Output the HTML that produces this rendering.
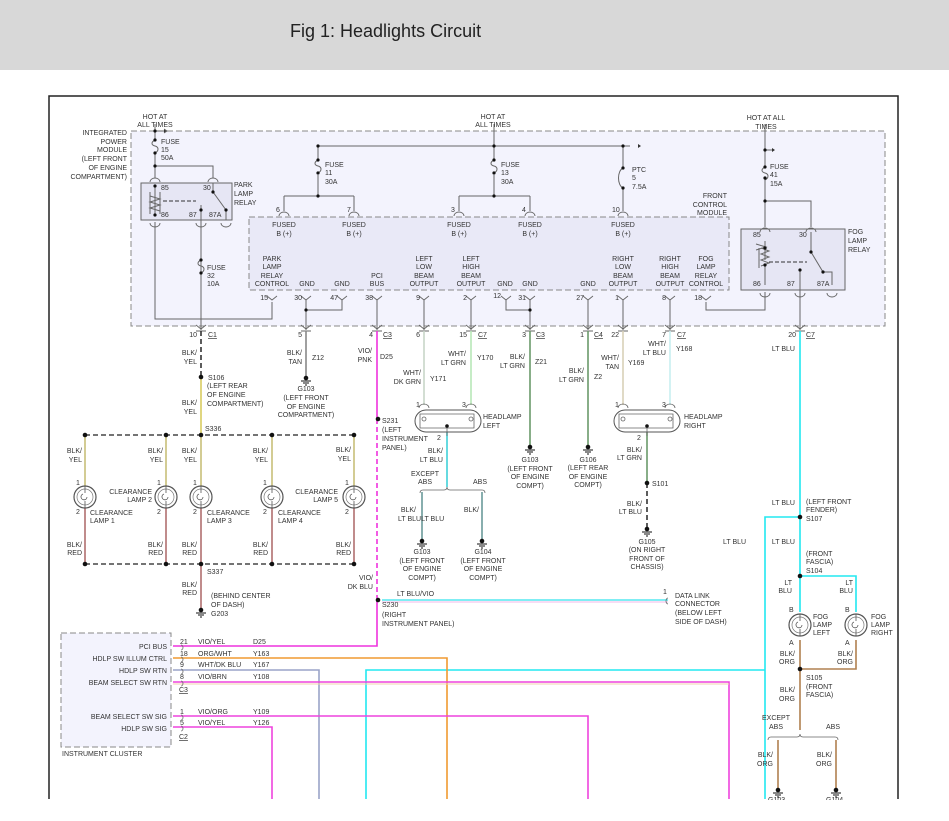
<!DOCTYPE html>
<html><head><meta charset="utf-8"><style>
body{margin:0;width:949px;height:821px;overflow:hidden;background:#fff}
svg{display:block}
text{font-family:"Liberation Sans",sans-serif;font-size:7px;fill:#333}
.r{text-anchor:end}.m{text-anchor:middle}
</style></head><body>
<svg width="949" height="821" viewBox="0 0 949 821" xmlns="http://www.w3.org/2000/svg">
<defs>
<g id="gnd"><circle cx="0" cy="0" r="2.3" fill="#111"/><path d="M-5 3H5M-3 5H3M-1 7H1" stroke="#111" stroke-width="1"/></g>
<g id="lamp"><circle cx="0" cy="0" r="11" fill="#fff" stroke="#555" stroke-width="1.2"/><circle cx="0" cy="0" r="8" fill="none" stroke="#777" stroke-width=".7"/><path d="M0 -11V-4M0 11V4M-2 -3a3 3 0 1 0 4 3" fill="none" stroke="#555" stroke-width=".8"/></g>
</defs>
<rect x="0" y="0" width="949" height="70" fill="#d8d8d8"/>
<text x="290" y="37" style="font-size:18px;fill:#222">Fig 1: Headlights Circuit</text>
<path d="M49 799V96H898V799" fill="none" stroke="#222" stroke-width="1.5"/>
<!-- IPM box -->
<rect x="131" y="131" width="754" height="195" fill="#f3f3fd" stroke="#888" stroke-dasharray="6,3"/>
<rect x="249" y="217" width="480" height="73" fill="#e9e9f7" stroke="#888" stroke-dasharray="6,3"/>
<rect x="141" y="183" width="91" height="37" fill="#e6e6f4" stroke="#666"/>
<rect x="741" y="229" width="104" height="61" fill="#e6e6f4" stroke="#666"/>
<g stroke="#666" stroke-width="1" fill="none">
<!-- left fuse / relay -->
<path d="M155 124V140M155 153V178M155 166H213V178"/>
<path d="M155 140c-4 2-4 5 0 6s4 5 0 7"/>
<path d="M155 131H166"/><path d="M164 129l3 2-3 2" fill="#333"/>
<path d="M155 186V215M155 222V319H272V302"/>
<path d="M150 196l10 3-10 3 10 3-10 3 10 3" /><path d="M150 192V214M160 192V214"/>
<path d="M163 201H196" stroke-dasharray="4,2" stroke="#333"/>
<path d="M213 183V192L226 210M226 210V220"/>
<path d="M201 205V330"/>
<path d="M201 260c-4 2-4 5 0 6s4 5 0 7"/>
<!-- top bus -->
<path d="M494 124V146M318 146H630M318 146V160M318 175V196M284 196H354M284 196V211M354 196V211"/>
<path d="M318 160c-4 2-4 5 0 6s4 5 0 7" />
<path d="M494 146V160M494 175V196M459 196H530M459 196V211M530 196V211"/>
<path d="M494 160c-4 2-4 5 0 6s4 5 0 7"/>
<path d="M623 146V168M623 188V211M623 168c-6 3-6 17 0 20"/>
<!-- fog relay -->
<path d="M765 124V167M765 178V201H811V227M765 201V227M765 292V310H706V302"/>
<path d="M765 167c-4 2-4 5 0 6s4 5 0 7"/>
<path d="M765 150H774"/>
<path d="M765 241V260M756 250l10-3-10-3M761 248l8 3-8 3 8 3-8 3 8 3-8 3M759 248V268M765 265V285"/>
<path d="M769 262H807" stroke-dasharray="4,2" stroke="#333"/>
<path d="M811 232V252L823 272H832V285M800 270V330"/>
<!-- fcm bottom pins -->
<path d="M306 300V330M342 300V310H306M377 300V330M424 300V330M471 300V330M506 300V310H530M530 300V330M588 300V330M623 300V330M670 300V330"/>
</g>
<path d="M772 148l3 2-3 2z" fill="#333"/><path d="M638 144l3 2-3 2z" fill="#333"/>
<g fill="#111">
<circle cx="155" cy="131" r="1.6"/><circle cx="155" cy="140" r="1.6"/><circle cx="155" cy="153" r="1.6"/><circle cx="155" cy="166" r="1.6"/>
<circle cx="155" cy="186" r="1.6"/><circle cx="155" cy="215" r="1.6"/><circle cx="213" cy="192" r="1.6"/><circle cx="226" cy="210" r="1.6"/><circle cx="201" cy="210" r="1.6"/>
<circle cx="201" cy="260" r="1.6"/><circle cx="201" cy="273" r="1.6"/>
<circle cx="318" cy="146" r="1.6"/><circle cx="318" cy="160" r="1.6"/><circle cx="318" cy="173" r="1.6"/><circle cx="318" cy="196" r="1.6"/>
<circle cx="494" cy="146" r="1.6"/><circle cx="494" cy="160" r="1.6"/><circle cx="494" cy="173" r="1.6"/><circle cx="494" cy="196" r="1.6"/>
<circle cx="623" cy="146" r="1.6"/><circle cx="623" cy="168" r="1.6"/><circle cx="623" cy="188" r="1.6"/>
<circle cx="765" cy="150" r="1.6"/><circle cx="765" cy="167" r="1.6"/><circle cx="765" cy="178" r="1.6"/><circle cx="765" cy="201" r="1.6"/>
<circle cx="765" cy="248" r="1.6"/><circle cx="765" cy="265" r="1.6"/><circle cx="823" cy="272" r="1.6"/><circle cx="800" cy="270" r="1.6"/><circle cx="811" cy="252" r="1.6"/>
<circle cx="306" cy="310" r="1.6"/><circle cx="530" cy="310" r="1.6"/>
</g>
<!-- connector arcs -->
<g fill="none" stroke="#666" stroke-width=".9">
<path d="M150 182a5 4 0 0 1 10 0M208 182a5 4 0 0 1 10 0M150 223a5 4 0 0 0 10 0M196 223a5 4 0 0 0 10 0M221 223a5 4 0 0 0 10 0"/>
<path d="M279 216a5 4 0 0 1 10 0M349 216a5 4 0 0 1 10 0M454 216a5 4 0 0 1 10 0M525 216a5 4 0 0 1 10 0M618 216a5 4 0 0 1 10 0"/>
<path d="M760 232a5 4 0 0 1 10 0M806 232a5 4 0 0 1 10 0M760 293a5 4 0 0 0 10 0M795 293a5 4 0 0 0 10 0M827 293a5 4 0 0 0 10 0"/>
<path d="M267 296l5 4 5-4M301 296l5 4 5-4M337 296l5 4 5-4M372 296l5 4 5-4M419 296l5 4 5-4M466 296l5 4 5-4M501 296l5 4 5-4M525 296l5 4 5-4M583 296l5 4 5-4M618 296l5 4 5-4M665 296l5 4 5-4M701 296l5 4 5-4"/>
<path d="M196 325l5 4 5-4M301 325l5 4 5-4M372 325l5 4 5-4M419 325l5 4 5-4M466 325l5 4 5-4M525 325l5 4 5-4M583 325l5 4 5-4M618 325l5 4 5-4M665 325l5 4 5-4M795 325l5 4 5-4"/>
<path d="M196 331H206M301 331H311M372 331H382M419 331H429M466 331H476M525 331H535M583 331H593M618 331H628M665 331H675M795 331H805"/>
</g>
<!-- wires below -->
<g fill="none" stroke-width="1.6">
<path d="M201 331V377" stroke="#333" stroke-dasharray="5,3"/>
<path d="M201 377V435" stroke="#d8cc60"/>
<path d="M306 331V378" stroke="#888"/>
<path d="M377 331V419M377 600V646H173" stroke="#ee33dd"/>
<path d="M377 419V600" stroke="#ee33dd" stroke-dasharray="5,3"/>
<path d="M382 600H668" stroke="#55e8f0"/><path d="M382 602H668" stroke="#f0b8e8" stroke-width="1"/>
<path d="M424 331V405" stroke="#c8d6c8"/>
<path d="M471 331V405" stroke="#b8e8b8"/>
<path d="M447 432V487" stroke="#40d0d8"/>
<path d="M422 492V540M482 492V540" stroke="#6a9a9a"/>
<path d="M530 331V445M588 331V445" stroke="#6a9a6a"/>
<path d="M623 331V405" stroke="#d8d0b8"/>
<path d="M670 331V405" stroke="#c8eef0"/>
<path d="M647 432V483" stroke="#6a9a6a"/>
<path d="M647 483V527" stroke="#333" stroke-dasharray="5,3"/>
<path d="M800 331V612M800 517H765V799M800 576H856V612M765 670H366V799" stroke="#22e8f0"/>
<path d="M800 640V730M856 640V669H800M778 740V790M836 740V790" stroke="#b08050"/>
<path d="M173 658H447V799" stroke="#f09a30"/>
<path d="M173 670H319V799" stroke="#9aa4c8"/>
<path d="M173 682H729V799" stroke="#ee44dd"/><path d="M173 684H729" stroke="#f0d0b0" stroke-width="1"/>
<path d="M173 716H588V799" stroke="#ee44dd"/>
<path d="M173 727H272V799" stroke="#ee44dd"/>
<!-- clearance -->
<path d="M85 435H354M85 564H354" stroke="#222" stroke-width="1.2" stroke-dasharray="5,3"/>
<path d="M85 435V486M166 435V486M201 435V486M272 435V486M354 435V486" stroke="#c8c07a"/>
<path d="M85 508V564M166 508V564M201 508V564M272 508V564M354 508V564M201 564V610" stroke="#b07070"/>
</g>
<g fill="#111">
<circle cx="201" cy="377" r="2.3"/><circle cx="378" cy="419" r="2.3"/><circle cx="378" cy="600" r="2.3"/>
<circle cx="85" cy="435" r="2.3"/><circle cx="166" cy="435" r="2.3"/><circle cx="201" cy="435" r="2.3"/><circle cx="272" cy="435" r="2.3"/><circle cx="354" cy="435" r="2.3"/>
<circle cx="85" cy="564" r="2.3"/><circle cx="166" cy="564" r="2.3"/><circle cx="201" cy="564" r="2.3"/><circle cx="272" cy="564" r="2.3"/><circle cx="354" cy="564" r="2.3"/>
<circle cx="647" cy="483" r="2.3"/><circle cx="800" cy="517" r="2.3"/><circle cx="800" cy="576" r="2.3"/><circle cx="800" cy="669" r="2.3"/>
</g>
<use href="#gnd" x="306" y="378"/><use href="#gnd" x="201" y="610"/><use href="#gnd" x="422" y="541"/><use href="#gnd" x="482" y="541"/>
<use href="#gnd" x="530" y="447"/><use href="#gnd" x="588" y="447"/><use href="#gnd" x="647" y="529"/><use href="#gnd" x="778" y="790"/><use href="#gnd" x="836" y="790"/>
<use href="#lamp" x="85" y="497"/><use href="#lamp" x="166" y="497"/><use href="#lamp" x="201" y="497"/><use href="#lamp" x="272" y="497"/><use href="#lamp" x="354" y="497"/>
<use href="#lamp" x="800" y="625"/><use href="#lamp" x="856" y="625"/>
<!-- headlamps -->
<g fill="#fff" stroke="#555" stroke-width="1">
<rect x="415" y="410" width="66" height="22" rx="11"/><rect x="614" y="410" width="66" height="22" rx="11"/>
</g>
<g fill="none" stroke="#666" stroke-width=".8">
<path d="M420 414h54v14h-54zM619 414h54v14h-54z"/>
<circle cx="424" cy="419" r="2"/><circle cx="471" cy="419" r="2"/><circle cx="623" cy="419" r="2"/><circle cx="670" cy="419" r="2"/>
<path d="M419 408a5 4 0 0 1 10 0M466 408a5 4 0 0 1 10 0M618 408a5 4 0 0 1 10 0M665 408a5 4 0 0 1 10 0"/>
<path d="M447 426V436M647 426V436"/>
<path d="M420 493q0-3 3-3h21q3 0 3-3q0 3 3 3h32q3 0 3 3"/>
<path d="M768 740q0-3 3-3h26q3 0 3-3q0 3 3 3h32q3 0 3 3"/>
<path d="M181 645a2 2.5 0 0 1 0 5M181 657a2 2.5 0 0 1 0 5M181 669a2 2.5 0 0 1 0 5M181 681a2 2.5 0 0 1 0 5M181 715a2 2.5 0 0 1 0 5M181 726a2 2.5 0 0 1 0 5M668 598a2 3 0 0 0 0 6"/>
</g>
<circle cx="447" cy="426" r="1.8" fill="#111"/><circle cx="647" cy="426" r="1.8" fill="#111"/>
<rect x="61" y="633" width="110" height="114" fill="#f3f3fd" stroke="#888" stroke-dasharray="6,3"/>
<!-- TEXT -->
<g>
<text class="r" x="127" y="135">INTEGRATED</text><text class="r" x="127" y="144">POWER</text><text class="r" x="127" y="152">MODULE</text><text class="r" x="127" y="161">(LEFT FRONT</text><text class="r" x="127" y="170">OF ENGINE</text><text class="r" x="127" y="179">COMPARTMENT)</text>
<text class="m" x="155" y="119">HOT AT</text><text class="m" x="155" y="127">ALL TIMES</text>
<text x="161" y="144">FUSE</text><text x="161" y="152">15</text><text x="161" y="160">50A</text>
<text x="161" y="190">85</text><text x="203" y="190">30</text><text x="161" y="217">86</text><text x="189" y="217">87</text><text x="209" y="217">87A</text>
<text x="234" y="187">PARK</text><text x="234" y="196">LAMP</text><text x="234" y="205">RELAY</text>
<text x="207" y="270">FUSE</text><text x="207" y="278">32</text><text x="207" y="286">10A</text>
<text class="m" x="493" y="119">HOT AT</text><text class="m" x="493" y="127">ALL TIMES</text>
<text x="325" y="167">FUSE</text><text x="325" y="175">11</text><text x="325" y="184">30A</text>
<text x="501" y="167">FUSE</text><text x="501" y="175">13</text><text x="501" y="184">30A</text>
<text x="632" y="172">PTC</text><text x="632" y="180">5</text><text x="632" y="189">7.5A</text>
<text x="276" y="212">6</text><text x="347" y="212">7</text><text x="451" y="212">3</text><text x="522" y="212">4</text><text x="612" y="212">10</text>
<text class="m" x="284" y="227">FUSED</text><text class="m" x="284" y="236">B (+)</text>
<text class="m" x="354" y="227">FUSED</text><text class="m" x="354" y="236">B (+)</text>
<text class="m" x="459" y="227">FUSED</text><text class="m" x="459" y="236">B (+)</text>
<text class="m" x="530" y="227">FUSED</text><text class="m" x="530" y="236">B (+)</text>
<text class="m" x="623" y="227">FUSED</text><text class="m" x="623" y="236">B (+)</text>
<text class="r" x="727" y="198">FRONT</text><text class="r" x="727" y="207">CONTROL</text><text class="r" x="727" y="215">MODULE</text>
<text class="m" x="272" y="261">PARK</text><text class="m" x="272" y="269">LAMP</text><text class="m" x="272" y="278">RELAY</text><text class="m" x="272" y="286">CONTROL</text>
<text class="m" x="307" y="286">GND</text><text class="m" x="342" y="286">GND</text>
<text class="m" x="377" y="278">PCI</text><text class="m" x="377" y="286">BUS</text>
<text class="m" x="424" y="261">LEFT</text><text class="m" x="424" y="269">LOW</text><text class="m" x="424" y="278">BEAM</text><text class="m" x="424" y="286">OUTPUT</text>
<text class="m" x="471" y="261">LEFT</text><text class="m" x="471" y="269">HIGH</text><text class="m" x="471" y="278">BEAM</text><text class="m" x="471" y="286">OUTPUT</text>
<text class="m" x="505" y="286">GND</text><text class="m" x="530" y="286">GND</text><text class="m" x="588" y="286">GND</text>
<text class="m" x="623" y="261">RIGHT</text><text class="m" x="623" y="269">LOW</text><text class="m" x="623" y="278">BEAM</text><text class="m" x="623" y="286">OUTPUT</text>
<text class="m" x="670" y="261">RIGHT</text><text class="m" x="670" y="269">HIGH</text><text class="m" x="670" y="278">BEAM</text><text class="m" x="670" y="286">OUTPUT</text>
<text class="m" x="706" y="261">FOG</text><text class="m" x="706" y="269">LAMP</text><text class="m" x="706" y="278">RELAY</text><text class="m" x="706" y="286">CONTROL</text>
<text class="r" x="268" y="300">15</text><text class="r" x="302" y="300">30</text><text class="r" x="338" y="300">47</text><text class="r" x="373" y="300">38</text><text class="r" x="420" y="300">9</text><text class="r" x="467" y="300">2</text><text class="r" x="501" y="298">12</text><text class="r" x="526" y="300">31</text><text class="r" x="584" y="300">27</text><text class="r" x="619" y="300">1</text><text class="r" x="666" y="300">8</text><text class="r" x="702" y="300">18</text>
<text class="m" x="766" y="120">HOT AT ALL</text><text class="m" x="766" y="129">TIMES</text>
<text x="770" y="169">FUSE</text><text x="770" y="177">41</text><text x="770" y="186">15A</text>
<text x="753" y="237">85</text><text x="799" y="237">30</text><text x="753" y="286">86</text><text x="787" y="286">87</text><text x="817" y="286">87A</text>
<text x="848" y="234">FOG</text><text x="848" y="243">LAMP</text><text x="848" y="252">RELAY</text>
<!-- connector row -->
<text class="r" x="197" y="337">10</text><text x="208" y="337" text-decoration="underline">C1</text>
<text class="r" x="302" y="337">5</text>
<text class="r" x="373" y="337">4</text><text x="383" y="337" text-decoration="underline">C3</text>
<text class="r" x="420" y="337">6</text>
<text class="r" x="467" y="337">15</text><text x="478" y="337" text-decoration="underline">C7</text>
<text class="r" x="526" y="337">3</text><text x="536" y="337" text-decoration="underline">C3</text>
<text class="r" x="584" y="337">1</text><text x="594" y="337" text-decoration="underline">C4</text>
<text class="r" x="619" y="337">22</text>
<text class="r" x="666" y="337">7</text><text x="677" y="337" text-decoration="underline">C7</text>
<text class="r" x="796" y="337">20</text><text x="806" y="337" text-decoration="underline">C7</text>
<!-- wire labels -->
<text class="r" x="197" y="355">BLK/</text><text class="r" x="197" y="364">YEL</text>
<text x="208" y="380">S106</text><text x="207" y="388">(LEFT REAR</text><text x="207" y="397">OF ENGINE</text><text x="207" y="406">COMPARTMENT)</text>
<text class="r" x="197" y="405">BLK/</text><text class="r" x="197" y="414">YEL</text><text x="205" y="431">S336</text>
<text class="r" x="302" y="355">BLK/</text><text class="r" x="302" y="364">TAN</text><text x="312" y="360">Z12</text>
<text class="m" x="306" y="391">G103</text><text class="m" x="306" y="400">(LEFT FRONT</text><text class="m" x="306" y="409">OF ENGINE</text><text class="m" x="306" y="417">COMPARTMENT)</text>
<text class="r" x="372" y="353">VIO/</text><text class="r" x="372" y="362">PNK</text><text x="380" y="359">D25</text>
<text x="382" y="423">S231</text><text x="382" y="432">(LEFT</text><text x="382" y="441">INSTRUMENT</text><text x="382" y="450">PANEL)</text>
<text class="r" x="421" y="375">WHT/</text><text class="r" x="421" y="384">DK GRN</text><text x="430" y="381">Y171</text>
<text class="r" x="466" y="356">WHT/</text><text class="r" x="466" y="365">LT GRN</text><text x="477" y="360">Y170</text>
<text x="416" y="407">1</text><text x="462" y="407">3</text><text x="437" y="440">2</text>
<text x="483" y="419">HEADLAMP</text><text x="483" y="428">LEFT</text>
<text class="r" x="443" y="453">BLK/</text><text class="r" x="443" y="462">LT BLU</text>
<text class="m" x="425" y="476">EXCEPT</text><text class="m" x="425" y="484">ABS</text><text class="m" x="480" y="484">ABS</text>
<text class="r" x="416" y="512">BLK/</text><text x="398" y="521">LT BLULT BLU</text><text class="r" x="479" y="512">BLK/</text>
<text class="m" x="422" y="554">G103</text><text class="m" x="422" y="563">(LEFT FRONT</text><text class="m" x="422" y="571">OF ENGINE</text><text class="m" x="422" y="580">COMPT)</text>
<text class="m" x="483" y="554">G104</text><text class="m" x="483" y="563">(LEFT FRONT</text><text class="m" x="483" y="571">OF ENGINE</text><text class="m" x="483" y="580">COMPT)</text>
<text class="r" x="525" y="359">BLK/</text><text class="r" x="525" y="368">LT GRN</text><text x="535" y="364">Z21</text>
<text class="m" x="530" y="462">G103</text><text class="m" x="530" y="471">(LEFT FRONT</text><text class="m" x="530" y="479">OF ENGINE</text><text class="m" x="530" y="488">COMPT)</text>
<text class="r" x="584" y="373">BLK/</text><text class="r" x="584" y="382">LT GRN</text><text x="594" y="379">Z2</text>
<text class="m" x="588" y="462">G106</text><text class="m" x="588" y="470">(LEFT REAR</text><text class="m" x="588" y="479">OF ENGINE</text><text class="m" x="588" y="487">COMPT)</text>
<text class="r" x="619" y="360">WHT/</text><text class="r" x="619" y="369">TAN</text><text x="628" y="365">Y169</text>
<text class="r" x="666" y="346">WHT/</text><text class="r" x="666" y="355">LT BLU</text><text x="676" y="351">Y168</text>
<text x="615" y="407">1</text><text x="662" y="407">3</text><text x="637" y="440">2</text>
<text x="684" y="419">HEADLAMP</text><text x="684" y="428">RIGHT</text>
<text class="r" x="642" y="452">BLK/</text><text class="r" x="642" y="460">LT GRN</text><text x="652" y="486">S101</text>
<text class="r" x="642" y="506">BLK/</text><text class="r" x="642" y="514">LT BLU</text>
<text class="m" x="647" y="544">G105</text><text class="m" x="647" y="552">(ON RIGHT</text><text class="m" x="647" y="561">FRONT OF</text><text class="m" x="647" y="569">CHASSIS)</text>
<text class="r" x="795" y="351">LT BLU</text>
<text class="r" x="795" y="505">LT BLU</text><text x="806" y="504">(LEFT FRONT</text><text x="806" y="512">FENDER)</text><text x="806" y="521">S107</text>
<text x="723" y="544">LT BLU</text><text class="r" x="795" y="544">LT BLU</text>
<text x="806" y="556">(FRONT</text><text x="806" y="564">FASCIA)</text><text x="806" y="573">S104</text>
<text class="r" x="792" y="585">LT</text><text class="r" x="792" y="593">BLU</text><text class="r" x="853" y="585">LT</text><text class="r" x="853" y="593">BLU</text>
<text x="789" y="612">B</text><text x="845" y="612">B</text>
<text x="813" y="619">FOG</text><text x="813" y="627">LAMP</text><text x="813" y="635">LEFT</text>
<text x="871" y="619">FOG</text><text x="871" y="627">LAMP</text><text x="871" y="635">RIGHT</text>
<text x="789" y="645">A</text><text x="845" y="645">A</text>
<text class="r" x="795" y="656">BLK/</text><text class="r" x="795" y="664">ORG</text><text class="r" x="853" y="656">BLK/</text><text class="r" x="853" y="664">ORG</text>
<text x="806" y="680">S105</text><text x="806" y="689">(FRONT</text><text x="806" y="697">FASCIA)</text>
<text class="r" x="795" y="692">BLK/</text><text class="r" x="795" y="701">ORG</text>
<text class="m" x="776" y="720">EXCEPT</text><text class="m" x="776" y="729">ABS</text><text class="m" x="833" y="729">ABS</text>
<text class="r" x="773" y="757">BLK/</text><text class="r" x="773" y="766">ORG</text><text class="r" x="832" y="757">BLK/</text><text class="r" x="832" y="766">ORG</text>
<!-- clearance labels -->
<text class="r" x="82" y="453">BLK/</text><text class="r" x="82" y="462">YEL</text>
<text class="r" x="163" y="453">BLK/</text><text class="r" x="163" y="462">YEL</text>
<text class="r" x="197" y="453">BLK/</text><text class="r" x="197" y="462">YEL</text>
<text class="r" x="268" y="453">BLK/</text><text class="r" x="268" y="462">YEL</text>
<text class="r" x="351" y="452">BLK/</text><text class="r" x="351" y="461">YEL</text>
<text x="76" y="485">1</text><text x="157" y="485">1</text><text x="193" y="485">1</text><text x="263" y="485">1</text><text x="345" y="485">1</text>
<text x="76" y="514">2</text><text x="157" y="514">2</text><text x="193" y="514">2</text><text x="263" y="514">2</text><text x="345" y="514">2</text>
<text x="90" y="515">CLEARANCE</text><text x="90" y="523">LAMP 1</text>
<text class="r" x="152" y="494">CLEARANCE</text><text class="r" x="152" y="502">LAMP 2</text>
<text x="207" y="515">CLEARANCE</text><text x="207" y="523">LAMP 3</text>
<text x="278" y="515">CLEARANCE</text><text x="278" y="523">LAMP 4</text>
<text class="r" x="338" y="494">CLEARANCE</text><text class="r" x="338" y="502">LAMP 5</text>
<text class="r" x="82" y="547">BLK/</text><text class="r" x="82" y="555">RED</text>
<text class="r" x="163" y="547">BLK/</text><text class="r" x="163" y="555">RED</text>
<text class="r" x="197" y="547">BLK/</text><text class="r" x="197" y="555">RED</text>
<text class="r" x="268" y="547">BLK/</text><text class="r" x="268" y="555">RED</text>
<text class="r" x="351" y="547">BLK/</text><text class="r" x="351" y="555">RED</text>
<text x="207" y="574">S337</text><text class="r" x="197" y="587">BLK/</text><text class="r" x="197" y="595">RED</text>
<text x="211" y="598">(BEHIND CENTER</text><text x="211" y="607">OF DASH)</text><text x="211" y="616">G203</text>
<text class="r" x="373" y="580">VIO/</text><text class="r" x="373" y="589">DK BLU</text>
<text x="382" y="607">S230</text><text x="382" y="617">(RIGHT</text><text x="382" y="626">INSTRUMENT PANEL)</text>
<text x="397" y="596">LT BLU/VIO</text>
<text x="663" y="594">1</text>
<text x="675" y="598">DATA LINK</text><text x="675" y="606">CONNECTOR</text><text x="675" y="615">(BELOW LEFT</text><text x="675" y="624">SIDE OF DASH)</text>
<!-- cluster -->
<text class="r" x="167" y="649">PCI BUS</text><text class="r" x="167" y="661">HDLP SW ILLUM CTRL</text><text class="r" x="167" y="673">HDLP SW RTN</text><text class="r" x="167" y="685">BEAM SELECT SW RTN</text><text class="r" x="167" y="719">BEAM SELECT SW SIG</text><text class="r" x="167" y="731">HDLP SW SIG</text>
<text x="62" y="756">INSTRUMENT CLUSTER</text>
<text x="180" y="644">21</text><text x="180" y="656">18</text><text x="180" y="667">9</text><text x="180" y="679">8</text><text x="179" y="692" text-decoration="underline">C3</text><text x="180" y="714">1</text><text x="180" y="725">5</text><text x="179" y="739" text-decoration="underline">C2</text>
<text x="198" y="644">VIO/YEL</text><text x="198" y="656">ORG/WHT</text><text x="198" y="667">WHT/DK BLU</text><text x="198" y="679">VIO/BRN</text><text x="198" y="714">VIO/ORG</text><text x="198" y="725">VIO/YEL</text>
<text x="253" y="644">D25</text><text x="253" y="656">Y163</text><text x="253" y="667">Y167</text><text x="253" y="679">Y108</text><text x="253" y="714">Y109</text><text x="253" y="725">Y126</text>
<text x="768" y="802">G103</text><text x="826" y="802">G104</text>
</g>
<rect x="0" y="800" width="949" height="21" fill="#fff"/>
</svg>
</body></html>
